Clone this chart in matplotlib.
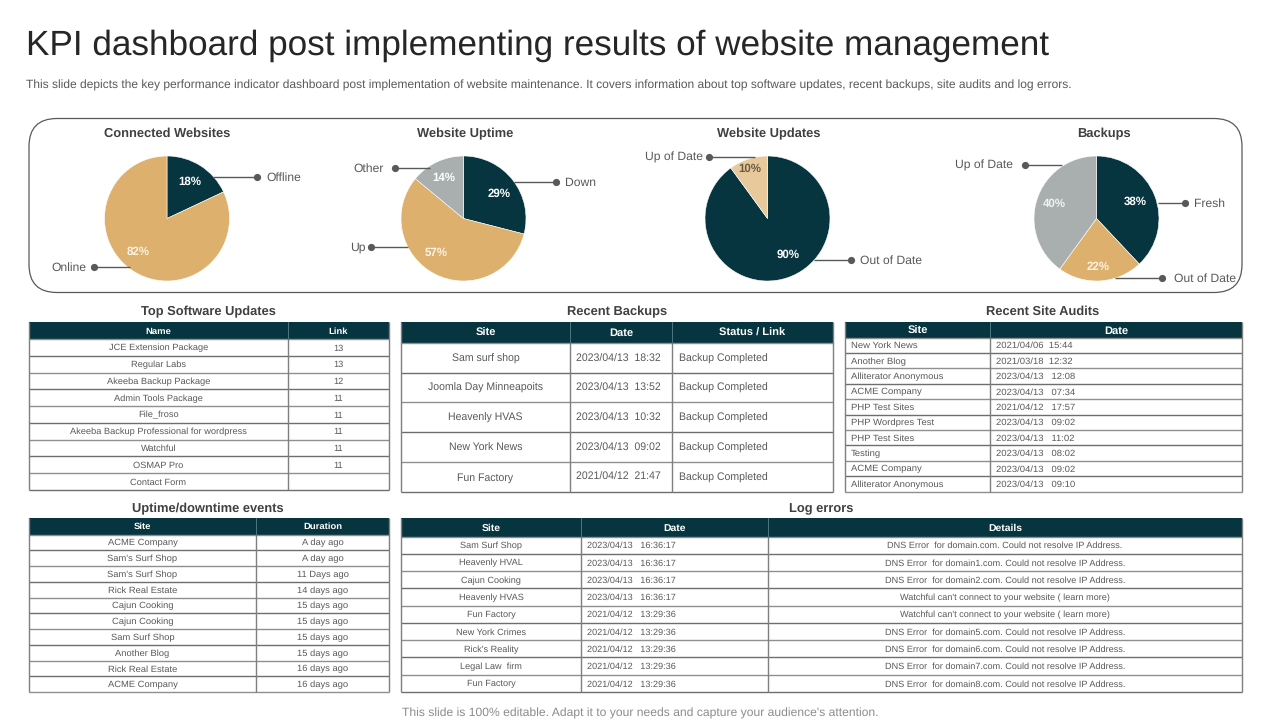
import matplotlib
matplotlib.use("Agg")
import matplotlib.pyplot as plt
from matplotlib.patches import FancyBboxPatch, Rectangle

plt.rcParams['font.family'] = ['Liberation Sans', 'DejaVu Sans']
plt.rcParams['text.hinting'] = 'none'

# ---------- data ----------
TITLE = "KPI dashboard post implementing results of website management"
SUBTITLE = ("This slide depicts the key performance indicator dashboard post implementation of website "
            "maintenance. It covers information about top software updates, recent backups, site audits and log errors.")
FOOTER = "This slide is 100% editable. Adapt it to your needs and capture your audience's attention."

connected_labels = ["Offline", "Online"]
connected_values = [18, 82]
uptime_labels = ["Down", "Up", "Other"]
uptime_values = [29, 57, 14]
updates_labels = ["Out of Date", "Up of Date"]
updates_values = [90, 10]
backups_labels = ["Fresh", "Out of Date", "Up of Date"]
backups_values = [38, 22, 40]

software_header = ["Name", "Link"]
software_names = ["JCE Extension Package", "Regular Labs", "Akeeba Backup Package", "Admin Tools Package",
                  "File_froso", "Akeeba Backup Professional for wordpress", "Watchful", "OSMAP Pro", "Contact Form"]
software_links = ["13", "13", "12", "11", "11", "11", "11", "11", ""]

backups_header = ["Site", "Date", "Status / Link"]
backups_sites = ["Sam surf shop", "Joomla Day Minneapoits", "Heavenly HVAS", "New York News", "Fun Factory"]
backups_dates = ["2023/04/13  18:32", "2023/04/13  13:52", "2023/04/13  10:32", "2023/04/13  09:02", "2021/04/12  21:47"]
backups_status = ["Backup Completed"] * 5

audits_header = ["Site", "Date"]
audits_sites = ["New York News", "Another Blog", "Alliterator Anonymous", "ACME Company", "PHP Test Sites",
                "PHP Wordpres Test", "PHP Test Sites", "Testing", "ACME Company", "Alliterator Anonymous"]
audits_dates = ["2021/04/06  15:44", "2021/03/18  12:32", "2023/04/13   12:08", "2023/04/13   07:34", "2021/04/12   17:57",
                "2023/04/13   09:02", "2023/04/13   11:02", "2023/04/13   08:02", "2023/04/13   09:02", "2023/04/13   09:10"]

events_header = ["Site", "Duration"]
events_sites = ["ACME Company", "Sam's Surf Shop", "Sam's Surf Shop", "Rick Real Estate", "Cajun Cooking",
                "Cajun Cooking", "Sam Surf Shop", "Another Blog", "Rick Real Estate", "ACME Company"]
events_durations = ["A day ago", "A day ago", "11 Days ago", "14 days ago", "15 days ago",
                    "15 days ago", "15 days ago", "15 days ago", "16 days ago", "16 days ago"]

log_header = ["Site", "Date", "Details"]
log_sites = ["Sam Surf Shop", "Heavenly HVAL", "Cajun Cooking", "Heavenly HVAS", "Fun Factory",
             "New York Crimes", "Rick's Reality", "Legal Law  firm", "Fun Factory"]
log_dates = ["2023/04/13   16:36:17"] * 4 + ["2021/04/12   13:29:36"] * 5
log_details = ["DNS Error  for domain.com. Could not resolve IP Address.",
               "DNS Error  for domain1.com. Could not resolve IP Address.",
               "DNS Error  for domain2.com. Could not resolve IP Address.",
               "Watchful can't connect to your website ( learn more)",
               "Watchful can't connect to your website ( learn more)",
               "DNS Error  for domain5.com. Could not resolve IP Address.",
               "DNS Error  for domain6.com. Could not resolve IP Address.",
               "DNS Error  for domain7.com. Could not resolve IP Address.",
               "DNS Error  for domain8.com. Could not resolve IP Address."]

# ---------- style ----------
NAVY, TAN, GREY, LTAN = "#06343F", "#DEB06E", "#A9AEAE", "#E8C99B"
TXT, HEAD = "#595959", "#404040"
W, H = 1280, 720
HEAD_FS = 9.3
DY = 0.8

fig = plt.figure(figsize=(12.8, 7.2), dpi=100, facecolor="white")
ov = fig.add_axes([0, 0, 1, 1], zorder=5)
ov.set_xlim(0, W); ov.set_ylim(H, 0); ov.axis("off"); ov.patch.set_alpha(0)

ov.text(26, 46, TITLE, fontsize=25.3, color="#262626", va="center", ha="left")
ov.text(26, 85, SUBTITLE, fontsize=8.64, color=TXT, va="center", ha="left")
ov.text(640, 713, FOOTER, fontsize=8.7, color="#8C8C8C", va="center", ha="center")

ov.add_patch(FancyBboxPatch((29 + 28, 118.5 + 28), 1213 - 56, 174 - 56,
                            boxstyle="round,pad=28,rounding_size=28", fc="none", ec="#595959", lw=0.9))


def pie(cx, cy, r, values, colors, title, title_x):
    a = fig.add_axes([(cx - r) / W, 1 - (cy + r) / H, 2 * r / W, 2 * r / H], zorder=2)
    a.pie(values, colors=colors, startangle=90, counterclock=False, radius=1,
          wedgeprops=dict(linewidth=0.4, edgecolor="white"))
    a.set_xlim(-1, 1); a.set_ylim(-1, 1); a.set_aspect("auto")
    ov.text(title_x, 133 + DY, title, fontsize=HEAD_FS, fontweight="bold", color=HEAD, ha="center", va="center")


def callout(x0, x1, y, label, label_x, ha):
    ov.plot([x0, x1], [y, y], color="#595959", lw=1.0, solid_capstyle="butt")
    ov.plot([x1], [y], "o", color="#595959", ms=5.2, mew=0)
    ov.text(label_x, y + DY, label, fontsize=8.7, color=TXT, ha=ha, va="center")


def pct(x, y, value, color="white"):
    ov.text(x, y + DY, f"{value}%", fontsize=8.3, fontweight="bold", color=color, ha="center", va="center")


pie(167, 218.5, 62.5, connected_values, [NAVY, TAN], "Connected Websites", 167)
callout(213, 257, 177, connected_labels[0], 266, "left")
callout(130, 94, 267, connected_labels[1], 86, "right")
pct(190, 181, connected_values[0]); pct(138, 251, connected_values[1], "#FBF3E6")

pie(463.5, 218.5, 62.5, uptime_values, [NAVY, TAN, GREY], "Website Uptime", 465)
callout(514, 556, 182, uptime_labels[0], 565, "left")
callout(408, 371, 247, uptime_labels[1], 366, "right")
callout(430, 395, 168, uptime_labels[2], 384, "right")
pct(499, 193, uptime_values[0]); pct(436, 252, uptime_values[1], "#FBF3E6"); pct(444, 177, uptime_values[2])

pie(767.5, 218.5, 62.5, updates_values, [NAVY, LTAN], "Website Updates", 769)
callout(814, 851, 260, updates_labels[0], 860, "left")
callout(755, 709, 157, updates_labels[1], 703, "right")
pct(788, 254, updates_values[0]); pct(750, 168, updates_values[1], "#6B5B45")

pie(1096.5, 218.5, 62.5, backups_values, [NAVY, TAN, GREY], "Backups", 1104)
callout(1158, 1185, 203, backups_labels[0], 1194, "left")
callout(1115, 1162, 278, backups_labels[1], 1174, "left")
callout(1062, 1025, 165, backups_labels[2], 1013, "right")
pct(1135, 201, backups_values[0]); pct(1098, 266, backups_values[1], "#FBF3E6"); pct(1054, 203, backups_values[2], "#F2F2F2")


def table(edges, top, head_bot, bottom, header, columns, aligns, fs, hfs, title, title_x, title_y, lefts=None):
    n = len(columns[0])
    x0, x1 = edges[0], edges[-1]
    ov.text(title_x, title_y + DY, title, fontsize=HEAD_FS, fontweight="bold", color=HEAD, ha="center", va="center")
    ov.add_patch(Rectangle((x0, top), x1 - x0, head_bot - top, fc=NAVY, ec="none"))
    for i, h in enumerate(header):
        ov.text((edges[i] + edges[i + 1]) / 2, (top + head_bot) / 2 + DY, h, fontsize=hfs, fontweight="bold",
                color="white", ha="center", va="center")
    step = (bottom - head_bot) / n
    for r in range(n + 1):
        y = head_bot + r * step
        ov.plot([x0, x1], [y, y], color="#6E6E6E" if r % 2 else "#8F8F8F", lw=1.0, solid_capstyle="butt")
    for x in edges:
        ov.plot([x, x], [top if x in (x0, x1) else head_bot, bottom], color="#7F7F7F", lw=1.0, solid_capstyle="butt")
    for x in edges[1:-1]:
        ov.plot([x, x], [top, head_bot], color="#4F7480", lw=0.7)
    for c, col in enumerate(columns):
        for r, val in enumerate(col):
            y = head_bot + (r + 0.5) * step + DY
            if aligns[c] == "center":
                ov.text((edges[c] + edges[c + 1]) / 2, y, val, fontsize=fs, color=TXT, ha="center", va="center")
            else:
                ov.text(edges[c] + lefts[c], y, val, fontsize=fs, color=TXT, ha="left", va="center")


table([29, 288, 389], 322, 339, 490, software_header, [software_names, software_links],
      ["center", "center"], 6.65, 6.8, "Top Software Updates", 208, 311)
table([401, 570, 672, 833], 322, 343, 491.5, backups_header, [backups_sites, backups_dates, backups_status],
      ["center", "left", "left"], 7.6, 8, "Recent Backups", 617, 311, lefts=[0, 6, 7])
table([845, 990, 1242], 322, 337.5, 491.5, audits_header, [audits_sites, audits_dates],
      ["left", "left"], 6.8, 8, "Recent Site Audits", 1043, 311, lefts=[6, 6])
table([29, 256, 389], 518, 534.5, 692, events_header, [events_sites, events_durations],
      ["center", "center"], 6.75, 6.8, "Uptime/downtime events", 208, 508)
table([401, 581, 768, 1242], 518, 536.5, 692, log_header, [log_sites, log_dates, log_details],
      ["center", "left", "center"], 6.55, 7.5, "Log errors", 821, 508, lefts=[0, 6, 0])

fig.savefig("out.png", dpi=100, facecolor="white")
